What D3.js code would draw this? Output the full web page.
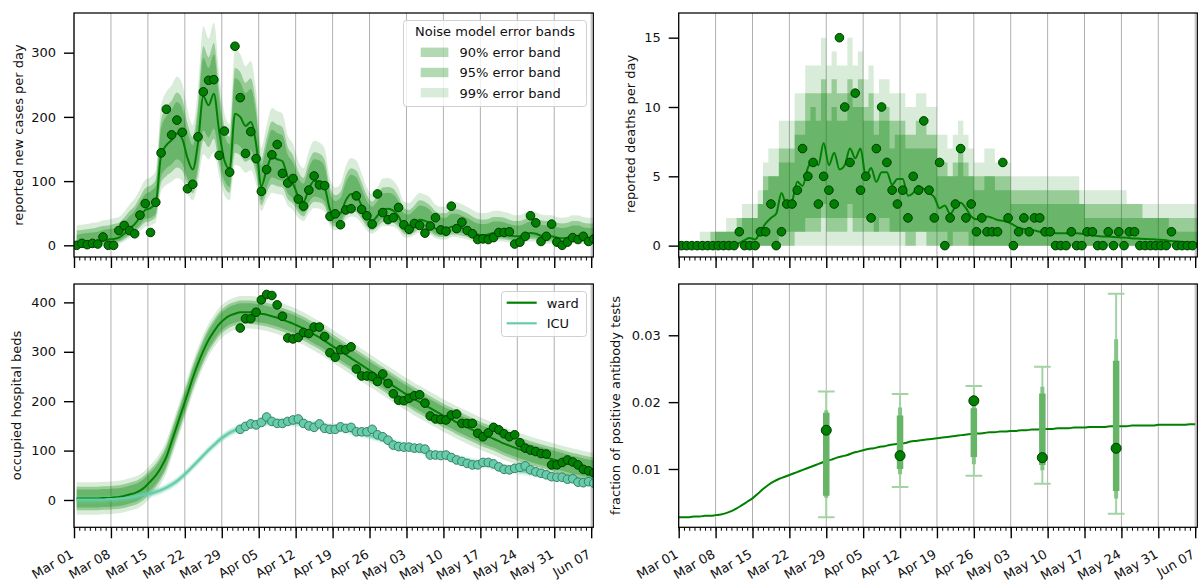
<!DOCTYPE html>
<html><head><meta charset="utf-8">
<script src="https://cdn.jsdelivr.net/npm/d3@7"></script>
<style>
body{margin:0;background:#fff;}
svg{display:block;font-family:"DejaVu Sans",sans-serif;}
</style></head><body>
<svg id="c" width="1198" height="586"></svg>
<script>
// ---------- data ----------
const tickLabels = ["Mar 01","Mar 08","Mar 15","Mar 22","Mar 29","Apr 05","Apr 12","Apr 19","Apr 26","May 03","May 10","May 17","May 24","May 31","Jun 07"];
const tickDays = [0,7,14,21,28,35,42,49,56,63,70,77,84,91,98];
const minorDays = d3.range(0, 99);
const bandLabels = ["90% error band","95% error band","99% error band"];

// reported cases per day (Mar 01 .. Jun 07)
const caseObs = [0,3,1,3,2,13,0,0,23,31, 23,18,47,65,20,67,144,212,172,195, 176,88,95,169,239,257,258,140,178,114, 310,230,143,177,135,84,118,141,157,112, 97,104,72,61,86,108,94,93,45,49, 32,55,57,77,56,46,33,80,51,40, 43,59,32,25,34,31,19,30,43,24, 22,61,26,36,23,18,9,10,9,12, 20,20,21,2,5,14,46,35,6,14, 33,5,0,5,12,9,14,6,10];
const caseModel = [2,3,4,5,6,8,9,10,12,18, 26,33,44,55,58,66,140,156,164,174, 166,136,118,160,232,218,236,178,132,119, 205,200,186,192,158,92,118,138,134,131, 106,96,76,68,88,100,98,90,56,46, 50,70,80,77,62,46,38,46,56,57, 54,45,30,28,34,40,38,34,26,24, 24,29,29,27,24,20,17,16,17,19, 19,18,16,14,14,17,19,18,15,14, 14,12,11,12,14,14,12,11,11];
const caseHi99 = [31,32,33,35,36,39,40,42,44,52, 63,73,87,102,106,117,217,239,249,263, 252,212,187,244,341,322,347,268,206,189, 305,298,279,287,241,152,187,214,209,205, 171,158,131,120,147,163,160,150,104,90, 96,123,136,132,112,90,79,90,104,105, 101,89,68,66,74,82,79,74,63,60, 60,67,67,64,60,55,51,50,51,54, 54,52,50,47,47,51,54,52,48,47, 47,44,43,44,47,47,44,43,43];
const caseHi95 = [23,24,25,26,28,30,31,33,35,43, 53,61,75,89,93,103,195,215,225,238, 228,190,168,220,310,293,315,243,185,169, 276,270,253,260,218,135,168,193,188,184, 153,140,115,105,130,145,143,133,90,78, 83,108,120,116,98,78,68,78,90,91, 88,76,58,55,62,70,68,62,53,50, 50,56,56,54,50,45,41,40,41,44, 44,43,40,38,38,41,44,43,39,38, 38,35,34,35,38,38,35,34,34];
const caseHi90 = [16,18,19,20,21,24,25,26,28,36, 45,54,67,80,84,93,182,201,211,223, 213,177,156,206,292,276,297,228,172,157, 260,254,237,244,204,124,156,180,175,171, 141,129,105,96,120,134,132,122,81,69, 74,98,110,106,88,69,60,69,81,82, 79,68,50,48,55,62,60,55,45,43, 43,49,49,46,43,38,34,33,34,37, 37,36,33,31,31,34,37,36,32,31, 31,28,27,28,31,31,28,27,27];
const caseLo90 = [0,0,1,2,3,4,5,6,7,12, 18,24,32,41,43,49,107,120,126,134, 127,104,90,123,179,168,182,137,101,91, 158,154,143,148,121,70,90,106,103,100, 81,73,57,51,67,76,74,68,42,34, 37,53,60,58,46,34,28,34,42,42, 40,33,21,20,25,29,28,25,18,17, 17,21,21,19,17,14,11,10,11,13, 13,12,10,9,9,11,13,12,10,9, 9,7,7,7,9,9,7,7,7];
const caseLo95 = [-3,-2,-1,0,0,2,2,3,5,9, 15,20,28,36,38,44,97,108,114,121, 116,94,81,111,163,153,166,124,91,82, 144,140,130,134,110,62,81,95,92,90, 72,65,51,45,59,68,67,61,36,29, 32,46,54,51,41,29,23,29,36,37, 35,28,18,16,20,25,23,20,15,13, 13,17,17,15,13,10,8,8,8,10, 10,9,8,6,6,8,10,9,7,6, 6,5,4,5,6,6,5,4,4];
const caseLo99 = [-5,-4,-3,-3,-2,-1,0,0,2,6, 11,15,22,29,31,36,84,94,99,105, 100,81,70,96,142,134,145,108,78,70, 125,122,113,117,95,53,70,82,80,78, 62,55,43,38,50,58,57,52,30,23, 26,39,45,43,34,23,18,23,30,30, 29,23,13,12,16,20,18,16,11,9, 9,13,13,11,9,7,5,4,5,6, 6,6,4,3,3,5,6,6,4,3, 3,2,1,2,3,3,2,1,1];

// reported deaths per day (Mar 01 .. Jun 06)
const deathObs = [0,0,0,0,0,0,0,0,0,0, 0,1,0,0,0,1,1,3,0,1, 3,3,4,7,5,6,3,5,4,3, 15,10,6,11,4,5,2,7,10,6, 4,3,4,2,5,4,9,4,2,6, 0,2,3,7,2,3,1,2,1,1, 1,6,2,0,1,2,1,2,2,1, 1,0,0,0,1,0,0,1,1,0, 0,1,0,1,0,1,1,0,0,0, 0,0,0,1,0,0,0,0];
const deathModel = [0,0,0,0,0,0,0.02,0.03,0.05,0.07, 0.1,0.2,0.4,0.55,0.45,1.0,1.6,2.0,2.3,3.8, 2.9,3.2,4.6,4.3,5.6,6.2,5.8,7.4,5.8,6.7, 5.5,5.8,7.0,6.3,7.0,5.0,5.6,4.6,5.3,5.3, 4.4,4.8,4.8,3.6,3.8,4.3,4.1,3.8,3.5,2.7, 2.9,2.3,2.8,3.1,2.7,2.1,1.9,1.9,2.1,2.0, 1.85,1.8,1.7,1.5,1.3,1.2,1.15,1.1,1.0,1.0, 0.95,0.9,0.9,0.9,0.9,0.9,0.85,0.8,0.75,0.7, 0.65,0.65,0.62,0.6,0.58,0.55,0.52,0.5,0.48,0.46, 0.45,0.42,0.38,0.33,0.3,0.27,0.22,0.2,0.18];
const deathHi99 = [0,0,0,0,1,1,1,1,1,2, 2,2,3,3,3,4,6,7,7,9, 9,9,11,11,13,13,13,15,13,14, 13,13,15,13,14,12,13,11,12,12, 11,11,11,10,10,11,11,10,10,8, 8,7,8,9,8,7,6,6,7,7, 6,6,6,5,5,5,5,5,5,5, 5,5,5,5,5,5,4,4,4,4, 4,4,4,4,4,3,3,3,3,3, 3,3,3,3,3,3,3,3,3];
const deathHi95 = [0,0,0,0,0,0,1,1,1,1, 1,2,2,2,2,3,5,5,5,7, 7,7,9,9,11,11,11,12,11,12, 11,11,12,11,12,10,11,9,10,10, 9,9,9,8,8,9,9,8,8,6, 6,5,6,7,6,5,5,5,5,5, 5,5,5,4,4,4,4,4,4,4, 4,4,4,4,4,4,3,3,3,3, 3,3,3,3,3,3,3,3,2,2, 2,2,2,2,2,2,2,2,2];
const deathHi90 = [0,0,0,0,0,0,0,1,1,1, 1,1,2,2,2,3,4,5,5,6, 6,6,8,8,9,10,9,11,9,10, 9,9,11,10,10,9,9,8,9,9, 7,8,8,7,7,7,7,7,7,5, 5,5,5,6,5,5,4,4,5,5, 4,4,4,3,3,3,3,3,3,3, 3,3,3,3,3,3,3,2,2,2, 2,2,2,2,2,2,2,2,2,2, 2,2,2,1,1,1,1,1,1];
const deathLo90 = [0,0,0,0,0,0,0,0,0,0, 0,0,0,0,0,0,0,0,0,1, 1,1,1,1,2,2,2,3,2,2, 2,2,3,2,2,2,2,1,2,2, 1,1,1,1,1,1,1,1,1,1, 1,0,1,1,1,0,0,0,0,0, 0,0,0,0,0,0,0,0,0,0, 0,0,0,0,0,0,0,0,0,0, 0,0,0,0,0,0,0,0,0,0, 0,0,0,0,0,0,0,0,0];
const deathLo95 = [0,0,0,0,0,0,0,0,0,0, 0,0,0,0,0,0,0,0,0,0, 0,0,1,1,1,1,1,2,1,1, 1,1,2,1,1,1,1,1,1,1, 1,1,1,0,0,1,1,0,0,0, 0,0,0,0,0,0,0,0,0,0, 0,0,0,0,0,0,0,0,0,0, 0,0,0,0,0,0,0,0,0,0, 0,0,0,0,0,0,0,0,0,0, 0,0,0,0,0,0,0,0,0];
const deathLo99 = [0,0,0,0,0,0,0,0,0,0, 0,0,0,0,0,0,0,0,0,0, 0,0,0,0,0,0,0,0,0,0, 0,0,0,0,0,0,0,0,0,0, 0,0,0,0,0,0,0,0,0,0, 0,0,0,0,0,0,0,0,0,0, 0,0,0,0,0,0,0,0,0,0, 0,0,0,0,0,0,0,0,0,0, 0,0,0,0,0,0,0,0,0,0, 0,0,0,0,0,0,0,0,0];

// occupied hospital beds (observations from Apr 01 = day 31)
const bedObsStart = 31;
const wardObs = [348,367,367,380,405,416,414,395,372,328, 326,329,339,337,350,350,331,298,289,304, 304,310,265,251,251,250,240,255,236,215, 202,201,206,211,213,196,170,164,163,162, 172,174,155,155,155,135,128,136,147,142, 134,128,132,116,105,101,98,94,93,71, 71,76,81,77,71,62,59,55];
const icuObs = [143,149,154,152,157,168,159,155,155,159, 162,164,155,150,147,154,145,143,143,148, 145,147,138,138,138,143,132,128,121,111, 108,107,107,105,105,103,91,91,90,91, 86,81,78,74,71,71,76,76,73,67, 62,61,64,66,69,61,57,54,51,47, 46,46,42,43,36,35,37,34];
const wardModel = [3,3,3,3,3,4,4,5,6,8, 11,14,19,27,38,50,66,87,118,150, 182,214,247,276,302,324,341,356,366,373, 377,380,380,380,379,377,375,372,369,365, 361,357,352,347,341,335,329,322,315,308, 301,294,287,280,273,266,259,252,245,238, 231,224,217,211,204,198,192,186,180,174, 168,163,157,152,147,142,137,132,128,124, 119,114,110,106,102,99,95,92,89,86, 83,80,77,74,71,69,66,64,62];
const icuModel = [1,1,1,1,1,1,2,2,3,4, 5,7,9,11,13,16,20,25,31,38, 47,57,68,79,90,101,111,121,129,136, 141,146,150,153,155,156,157,158,158,158, 158,157,156,155,154,153,151,149,147,146, 144,142,140,138,135,132,129,126,123,120, 116,113,110,107,104,101,98,95,92,90, 88,86,83,81,79,77,75,73,71,69, 67,65,63,61,59,58,56,54,53,51, 49,48,46,45,43,42,40,39,38];
const wardBandHalfWidth = [18, 24, 33];   // 90%, 95%, 99%
const icuBandHalfWidth = [4, 6, 9];

// fraction of positive antibody tests
const abDays = [28, 42, 56, 69, 83];
const abValues = [0.0158, 0.0120, 0.0202, 0.0117, 0.0131];
const ab90Lo = [0.0060, 0.0100, 0.0118, 0.0106, 0.0067];
const ab90Hi = [0.0184, 0.0180, 0.0191, 0.0213, 0.0262];
const ab95Lo = [0.0057, 0.0092, 0.0107, 0.0098, 0.0056];
const ab95Hi = [0.0188, 0.0192, 0.0195, 0.0223, 0.0294];
const ab99Lo = [0.0028, 0.0073, 0.0090, 0.0078, 0.0033];
const ab99Hi = [0.0216, 0.0212, 0.0224, 0.0253, 0.0362];
const abModel = [0.0028,0.0028,0.0028,0.0029,0.0029,0.0030,0.0030,0.0031,0.0032,0.0034, 0.0037,0.0041,0.0046,0.0051,0.0056,0.0063,0.0070,0.0076,0.0081,0.0085, 0.0088,0.0091,0.0094,0.0097,0.0100,0.0103,0.0106,0.0109,0.0112,0.0114, 0.0117,0.0119,0.0121,0.0124,0.0126,0.0128,0.0130,0.0131,0.0133,0.0134, 0.0136,0.0137,0.0138,0.0139,0.0141,0.0142,0.0143,0.0144,0.0145,0.0146, 0.0147,0.0148,0.0149,0.0150,0.0151,0.0152,0.0153,0.0153,0.0154,0.0155, 0.0155,0.0156,0.0156,0.0157,0.0157,0.0158,0.0158,0.0159,0.0159,0.0160, 0.0160,0.0160,0.0161,0.0161,0.0161,0.0162,0.0162,0.0162,0.0163,0.0163, 0.0163,0.0163,0.0164,0.0164,0.0164,0.0164,0.0165,0.0165,0.0165,0.0165, 0.0165,0.0166,0.0166,0.0166,0.0166,0.0166,0.0166,0.0167,0.0167];

// ---------- drawing ----------
const svg = d3.select("#c");
svg.append("rect").attr("width",1198).attr("height",586).attr("fill","#fff");
const defs = svg.append("defs");
const GREEN = "#008000", GEDGE = "#003800", TEAL = "#66cdaa", TEDGE = "#3b7d6b";
const bandAlpha = [0.3, 0.3, 0.15];
const xDomain = [0, 98.4];
const FONT = 13;

function makePanel(id, p, yDomain) {
  const x = d3.scaleLinear().domain(xDomain).range([p.x, p.x + p.w]);
  const y = d3.scaleLinear().domain(yDomain).range([p.y + p.h, p.y]);
  defs.append("clipPath").attr("id", id).append("rect")
    .attr("x", p.x).attr("y", p.y).attr("width", p.w).attr("height", p.h);
  svg.append("g").selectAll("line").data(tickDays).join("line")
    .attr("x1", d => x(d)).attr("x2", d => x(d)).attr("y1", p.y).attr("y2", p.y + p.h)
    .attr("stroke", "#b0b0b0").attr("stroke-width", 1);
  const g = svg.append("g").attr("clip-path", `url(#${id})`);
  return {x, y, g, p};
}

function finishPanel(P, yTicks, yFmt, showLabels, ylabel, lx, ly) {
  const {x, y, p} = P;
  svg.append("rect").attr("x", p.x).attr("y", p.y).attr("width", p.w).attr("height", p.h)
    .attr("fill", "none").attr("stroke", "#000").attr("stroke-width", 1.25);
  const mi = svg.append("g").attr("transform", `translate(0,${p.y + p.h})`)
    .call(d3.axisBottom(x).tickValues(minorDays).tickSize(3.5).tickFormat(""));
  mi.select(".domain").remove();
  mi.selectAll("line").attr("stroke", "#000").attr("stroke-width", 1);
  const ma = svg.append("g").attr("transform", `translate(0,${p.y + p.h})`)
    .call(d3.axisBottom(x).tickValues(tickDays).tickSize(11)
      .tickFormat((d, i) => showLabels ? tickLabels[i] : ""));
  ma.select(".domain").remove();
  ma.selectAll("line").attr("stroke", "#000").attr("stroke-width", 1.4);
  ma.attr("font-size", FONT).attr("font-family", "DejaVu Sans, sans-serif");
  ma.selectAll("text").attr("x", 0).attr("y", 0).attr("dy", null)
    .attr("text-anchor", "end").attr("fill", "#111")
    .attr("transform", "translate(0,29.5) rotate(-30)");
  const ya = svg.append("g").attr("transform", `translate(${p.x},0)`)
    .call(d3.axisLeft(y).tickValues(yTicks).tickSize(10).tickPadding(8).tickFormat(yFmt));
  ya.select(".domain").remove();
  ya.selectAll("line").attr("stroke", "#000").attr("stroke-width", 1.4);
  ya.attr("font-size", FONT).attr("font-family", "DejaVu Sans, sans-serif");
  ya.selectAll("text").attr("fill", "#111");
  svg.append("text").attr("transform", `translate(${lx},${ly}) rotate(-90)`)
    .attr("text-anchor", "middle").attr("dominant-baseline", "central")
    .attr("font-size", FONT).attr("fill", "#111").text(ylabel);
}

function drawBands(P, bands, offset, curve, color) {
  const alphas = [bandAlpha[2], bandAlpha[1], bandAlpha[0]];
  bands.forEach(([lo, hi], k) => {
    const area = d3.area().x((d, i) => P.x(i + offset)).y0((d, i) => P.y(lo[i])).y1((d, i) => P.y(hi[i])).curve(curve);
    P.g.append("path").attr("d", area(lo)).attr("fill", color).attr("fill-opacity", alphas[k]);
  });
}
function drawLine(P, vals, offset, color, w, curve) {
  const line = d3.line().x((d, i) => P.x(i + offset)).y(d => P.y(d)).curve(curve || d3.curveMonotoneX);
  P.g.append("path").attr("d", line(vals)).attr("fill", "none").attr("stroke", color).attr("stroke-width", w);
}
function drawDots(P, vals, start, fill, edge, r) {
  P.g.append("g").selectAll("circle").data(vals).join("circle")
    .attr("cx", (d, i) => P.x(start + i + 0.5)).attr("cy", d => P.y(d)).attr("r", r)
    .attr("fill", fill).attr("stroke", edge).attr("stroke-width", 1);
}

// ---- panel 1: cases ----
const P1 = makePanel("c1", {x: 74, y: 13, w: 519.3, h: 244}, [-18.2, 361.8]);
drawBands(P1, [[caseLo99, caseHi99], [caseLo95, caseHi95], [caseLo90, caseHi90]], 0.5, d3.curveMonotoneX, GREEN);
drawLine(P1, caseModel, 0.5, GREEN, 2);
drawDots(P1, caseObs, 0, GREEN, GEDGE, 4.3);
finishPanel(P1, [0, 100, 200, 300], d3.format("d"), false, "reported new cases per day", 18.3, 135);

{
  const lg = svg.append("g");
  lg.append("rect").attr("x", 403.5).attr("y", 20.5).attr("width", 183).attr("height", 86).attr("rx", 3)
    .attr("fill", "#fff").attr("fill-opacity", 0.8).attr("stroke", "#d0d0d0");
  lg.append("text").attr("x", 495).attr("y", 36.4).attr("text-anchor", "middle")
    .attr("font-size", FONT).attr("fill", "#111").text("Noise model error bands");
  bandLabels.forEach((t, i) => {
    const cy = 52.3 + i * 20.2;
    lg.append("rect").attr("x", 420.7).attr("y", cy - 4.7).attr("width", 27.7).attr("height", 9.4)
      .attr("fill", GREEN).attr("fill-opacity", bandAlpha[i]);
    lg.append("text").attr("x", 459.5).attr("y", cy + 4.8).attr("font-size", FONT).attr("fill", "#111").text(t);
  });
}

// ---- panel 2: deaths ----
const P2 = makePanel("c2", {x: 678.7, y: 13, w: 518.6, h: 244}, [-0.82, 16.78]);
drawBands(P2, [[deathLo99, deathHi99], [deathLo95, deathHi95], [deathLo90, deathHi90]], 0.5, d3.curveStep, GREEN);
drawLine(P2, deathModel, 0.5, GREEN, 2);
drawDots(P2, deathObs, 0, GREEN, GEDGE, 4.3);
finishPanel(P2, [0, 5, 10, 15], d3.format("d"), false, "reported deaths per day", 630, 134);

// ---- panel 3: hospital beds ----
const P3 = makePanel("c3", {x: 74, y: 284, w: 519.3, h: 243.3}, [-55.3, 437.2]);
{
  const wb = [2, 1, 0].map(k => [wardModel.map(v => v - wardBandHalfWidth[k]), wardModel.map(v => v + wardBandHalfWidth[k])]);
  drawBands(P3, wb, 0.5, d3.curveMonotoneX, GREEN);
  const ib = [2, 1, 0].map(k => [icuModel.map(v => v - icuBandHalfWidth[k]), icuModel.map(v => v + icuBandHalfWidth[k])]);
  drawBands(P3, ib, 0.5, d3.curveMonotoneX, TEAL);
  drawLine(P3, wardModel, 0.5, GREEN, 2);
  drawLine(P3, icuModel, 0.5, TEAL, 2.2);
  drawDots(P3, wardObs, bedObsStart, GREEN, GEDGE, 4.3);
  drawDots(P3, icuObs, bedObsStart, TEAL, TEDGE, 4.3);
}
finishPanel(P3, [0, 100, 200, 300, 400], d3.format("d"), true, "occupied hospital beds", 16.7, 405.5);
{
  const lg = svg.append("g");
  lg.append("rect").attr("x", 501.5).attr("y", 291.5).attr("width", 85).attr("height", 45).attr("rx", 3)
    .attr("fill", "#fff").attr("fill-opacity", 0.8).attr("stroke", "#d0d0d0");
  [["ward", GREEN, 302.7], ["ICU", TEAL, 323.3]].forEach(([t, c, cy]) => {
    lg.append("line").attr("x1", 506.7).attr("x2", 536.7).attr("y1", cy).attr("y2", cy)
      .attr("stroke", c).attr("stroke-width", 2.2);
    lg.append("text").attr("x", 546.7).attr("y", cy + 4.8).attr("font-size", FONT).attr("fill", "#111").text(t);
  });
}

// ---- panel 4: antibody ----
const P4 = makePanel("c4", {x: 678.7, y: 284, w: 518.6, h: 243.3}, [0.00128, 0.03767]);
{
  const line = d3.line().x((d, i) => P4.x(i)).y(d => P4.y(d)).curve(d3.curveMonotoneX);
  P4.g.append("path").attr("d", line(abModel)).attr("fill", "none").attr("stroke", GREEN).attr("stroke-width", 2);
  const eg = P4.g.append("g");
  abDays.forEach((d, i) => {
    const cx = P4.x(d);
    eg.append("line").attr("x1", cx).attr("x2", cx).attr("y1", P4.y(ab99Lo[i])).attr("y2", P4.y(ab99Hi[i]))
      .attr("stroke", "#a2d3a2").attr("stroke-width", 2);
    [ab99Lo[i], ab99Hi[i]].forEach(v => {
      eg.append("line").attr("x1", cx - 8.3).attr("x2", cx + 8.3).attr("y1", P4.y(v)).attr("y2", P4.y(v))
        .attr("stroke", "#a2d3a2").attr("stroke-width", 2);
    });
    eg.append("line").attr("x1", cx).attr("x2", cx).attr("y1", P4.y(ab95Lo[i])).attr("y2", P4.y(ab95Hi[i]))
      .attr("stroke", "#84c484").attr("stroke-width", 4);
    eg.append("line").attr("x1", cx).attr("x2", cx).attr("y1", P4.y(ab90Lo[i])).attr("y2", P4.y(ab90Hi[i]))
      .attr("stroke", "#66b466").attr("stroke-width", 6.5);
  });
  P4.g.append("g").selectAll("circle").data(abValues).join("circle")
    .attr("cx", (d, i) => P4.x(abDays[i])).attr("cy", d => P4.y(d)).attr("r", 5)
    .attr("fill", GREEN).attr("stroke", GEDGE).attr("stroke-width", 1);
}
finishPanel(P4, [0.01, 0.02, 0.03], d3.format(".2f"), true, "fraction of positive antibody tests", 615.3, 405.5);
</script>
</body></html>
